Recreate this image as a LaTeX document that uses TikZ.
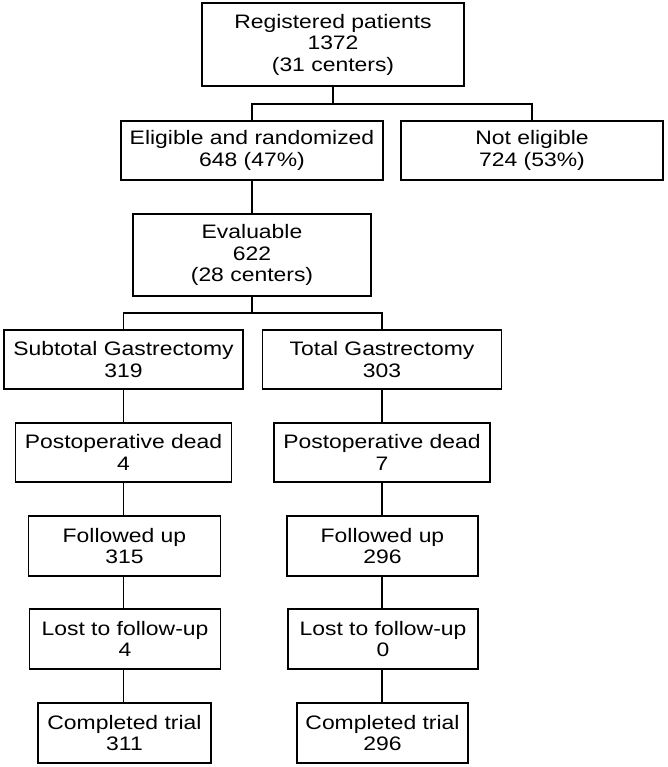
\documentclass[tikz,border=0pt]{standalone}
\usepackage{fontspec}
\setmainfont[FakeStretch=1.175]{Liberation Sans}
\usetikzlibrary{positioning}

\begin{document}
\begin{tikzpicture}[x=1pt, y=-1pt, line width=1.4pt,
    box/.style={draw, rectangle, align=center, inner sep=0pt,
      font=\fontsize{19.5}{21.5}\selectfont},
    widebox/.style={box, minimum width=262pt, minimum height=59pt},
    armbox/.style={box, minimum width=239pt, minimum height=59pt}]

    % --- 画布大小 (按原图像素) ---
    \useasboundingbox (0,0) rectangle (667,767);

    % --- 上部: 登记与入组 ---
    \node[box, minimum width=262pt, minimum height=83pt] (reg) at (333,44.5)
      {Registered patients\\1372\\(31 centers)};
    \node[widebox] (elig) at (252,150.5) {Eligible and randomized\\648 (47\%)};
    \node[widebox] (noteli) at (532,150.5) {Not eligible\\724 (53\%)};
    \node[box, minimum width=238pt, minimum height=82pt] (eval) at (252,255)
      {Evaluable\\622\\(28 centers)};

    % --- 两组手术 ---
    \node[armbox] (sub) at (123.5,359.5) {Subtotal Gastrectomy\\319};
    \node[armbox] (tot) at (382,359.5) {Total Gastrectomy\\303};

    % --- 左列 (次全切) ---
    \node[box, minimum width=216pt, minimum height=59pt] (deadL) at (123.5,452.5) {Postoperative dead\\4};
    \node[box, minimum width=192pt, minimum height=60pt] (fuL) at (124.5,546) {Followed up\\315};
    \node[box, minimum width=191pt, minimum height=60pt] (lostL) at (125,639) {Lost to follow-up\\4};
    \node[box, minimum width=173pt, minimum height=60pt] (compL) at (124.5,733) {Completed trial\\311};

    % --- 右列 (全切) ---
    \node[box, minimum width=216pt, minimum height=59pt] (deadR) at (382,452.5) {Postoperative dead\\7};
    \node[box, minimum width=191pt, minimum height=60pt] (fuR) at (382.5,546) {Followed up\\296};
    \node[box, minimum width=190pt, minimum height=60pt] (lostR) at (383,639) {Lost to follow-up\\0};
    \node[box, minimum width=171pt, minimum height=60pt] (compR) at (382.5,733) {Completed trial\\296};

    % --- 连线 ---
    \coordinate (j1) at (333,104);
    \coordinate (j2) at (252,313);
    \draw (reg.south) -- (j1);
    \draw (elig.north) |- (j1) -| (noteli.north);
    \draw (elig.south) -- (eval.north);
    \draw (eval.south) -- (j2);
    \draw (sub.north) |- (j2) -| (tot.north);

    \draw (sub.south) -- (deadL.north);
    \draw (deadL.south) -- (fuL.north -| deadL.south);
    \draw (fuL.south -| deadL.south) -- (lostL.north -| deadL.south);
    \draw (lostL.south -| deadL.south) -- (compL.north -| deadL.south);

    \draw (tot.south) -- (deadR.north);
    \draw (deadR.south) -- (fuR.north -| deadR.south);
    \draw (fuR.south -| deadR.south) -- (lostR.north -| deadR.south);
    \draw (lostR.south -| deadR.south) -- (compR.north -| deadR.south);

\end{tikzpicture}
\end{document}
